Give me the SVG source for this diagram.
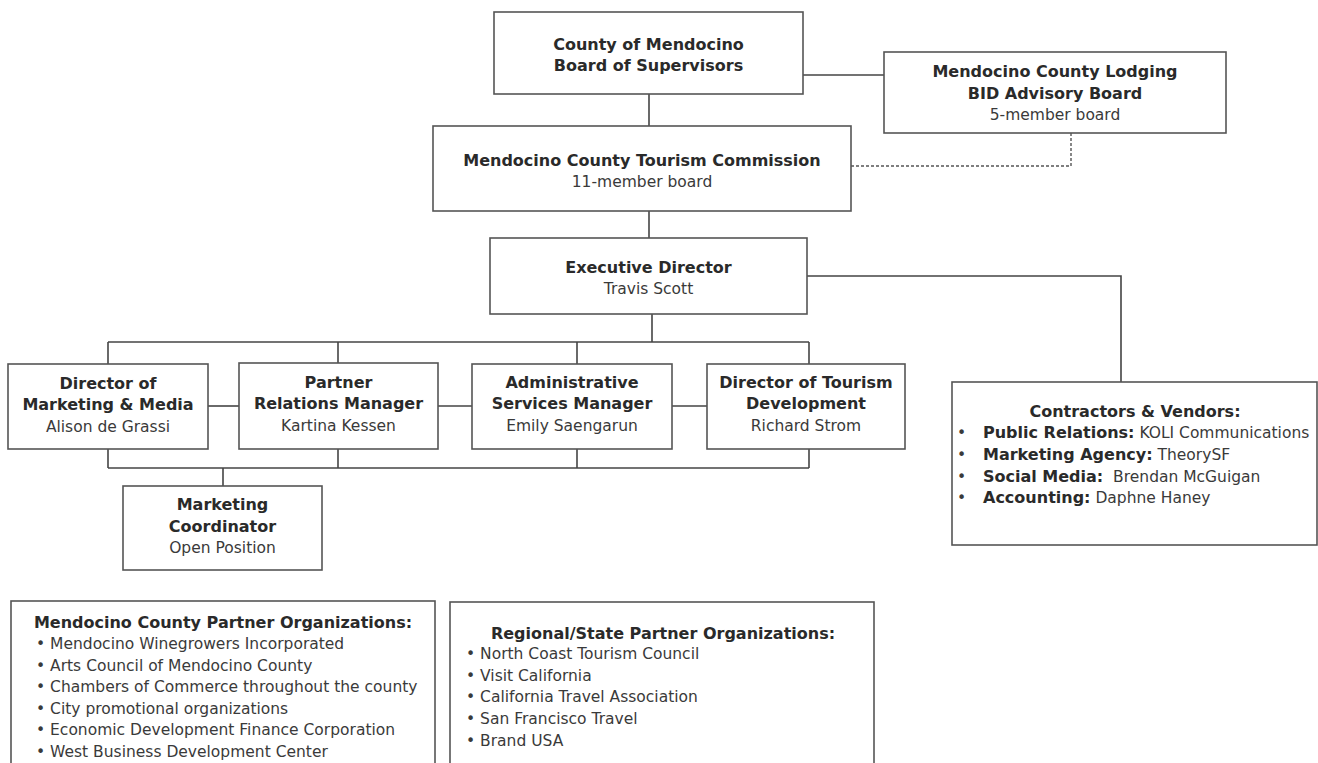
<svg xmlns="http://www.w3.org/2000/svg" width="1318" height="763" viewBox="0 0 1318 763">
<style>
.box{fill:#fff;stroke:#555;stroke-width:1.6}
.ln{fill:none;stroke:#444;stroke-width:1.6}
.dash{fill:none;stroke:#555;stroke-width:1.4;stroke-dasharray:3,2}
text{font-family:"DejaVu Sans",Verdana,sans-serif;fill:#2a2a2a}
.b{font-weight:bold;font-size:16px}
.r{font-size:15.5px;fill:#3a3a3a}
.c{text-anchor:middle}
</style>
<rect width="1318" height="763" fill="#fff"/>
<g id="connectors">
<line class="ln" x1="803" y1="75" x2="884" y2="75"/>
<line class="ln" x1="649" y1="94" x2="649" y2="126"/>
<polyline class="dash" points="851,166 1071,166 1071,133"/>
<line class="ln" x1="649" y1="211" x2="649" y2="238"/>
<polyline class="ln" points="807,276 1121,276 1121,382"/>
<line class="ln" x1="652" y1="314" x2="652" y2="342"/>
<line class="ln" x1="108" y1="342" x2="809" y2="342"/>
<line class="ln" x1="108" y1="342" x2="108" y2="364"/>
<line class="ln" x1="338" y1="342" x2="338" y2="364"/>
<line class="ln" x1="577" y1="342" x2="577" y2="364"/>
<line class="ln" x1="809" y1="342" x2="809" y2="364"/>
<line class="ln" x1="208" y1="406" x2="239" y2="406"/>
<line class="ln" x1="438" y1="406" x2="472" y2="406"/>
<line class="ln" x1="672" y1="406" x2="707" y2="406"/>
<line class="ln" x1="108" y1="449" x2="108" y2="468"/>
<line class="ln" x1="338" y1="449" x2="338" y2="468"/>
<line class="ln" x1="577" y1="449" x2="577" y2="468"/>
<line class="ln" x1="809" y1="449" x2="809" y2="468"/>
<line class="ln" x1="108" y1="468" x2="809" y2="468"/>
<line class="ln" x1="223" y1="468" x2="223" y2="486"/>
</g>
<g id="board">
<rect class="box" x="494" y="12" width="309" height="82"/>
<text class="b c" x="648.5" y="50">County of Mendocino</text>
<text class="b c" x="648.5" y="71">Board of Supervisors</text>
</g>
<g id="bid">
<rect class="box" x="884" y="52" width="342" height="81"/>
<text class="b c" x="1055" y="77">Mendocino County Lodging</text>
<text class="b c" x="1055" y="99">BID Advisory Board</text>
<text class="r c" x="1055" y="120">5-member board</text>
</g>
<g id="commission">
<rect class="box" x="433" y="126" width="418" height="85"/>
<text class="b c" x="642" y="166">Mendocino County Tourism Commission</text>
<text class="r c" x="642" y="187">11-member board</text>
</g>
<g id="exec">
<rect class="box" x="490" y="238" width="317" height="76"/>
<text class="b c" x="648.5" y="273">Executive Director</text>
<text class="r c" x="648.5" y="294">Travis Scott</text>
</g>
<g id="marketing">
<rect class="box" x="8" y="364" width="200" height="85"/>
<text class="b c" x="108" y="389">Director of</text>
<text class="b c" x="108" y="410">Marketing &amp; Media</text>
<text class="r c" x="108" y="432">Alison de Grassi</text>
</g>
<g id="partner">
<rect class="box" x="239" y="363" width="199" height="86"/>
<text class="b c" x="338.5" y="388">Partner</text>
<text class="b c" x="338.5" y="409">Relations Manager</text>
<text class="r c" x="338.5" y="431">Kartina Kessen</text>
</g>
<g id="admin">
<rect class="box" x="472" y="364" width="200" height="85"/>
<text class="b c" x="572" y="388">Administrative</text>
<text class="b c" x="572" y="409">Services Manager</text>
<text class="r c" x="572" y="431">Emily Saengarun</text>
</g>
<g id="tourism">
<rect class="box" x="707" y="364" width="198" height="85"/>
<text class="b c" x="806" y="388">Director of Tourism</text>
<text class="b c" x="806" y="409">Development</text>
<text class="r c" x="806" y="431">Richard Strom</text>
</g>
<g id="coordinator">
<rect class="box" x="123" y="486" width="199" height="84"/>
<text class="b c" x="222.5" y="510">Marketing</text>
<text class="b c" x="222.5" y="532">Coordinator</text>
<text class="r c" x="222.5" y="553">Open Position</text>
</g>
<g id="contractors">
<rect class="box" x="952" y="382" width="365" height="163"/>
<text class="b c" x="1135" y="417">Contractors &amp; Vendors:</text>
<text class="r" x="957" y="438">•</text><text x="983" y="438"><tspan class="b">Public Relations:</tspan><tspan class="r"> KOLI Communications</tspan></text>
<text class="r" x="957" y="460">•</text><text x="983" y="460"><tspan class="b">Marketing Agency:</tspan><tspan class="r"> TheorySF</tspan></text>
<text class="r" x="957" y="482">•</text><text x="983" y="482" xml:space="preserve"><tspan class="b">Social Media:</tspan><tspan class="r">  Brendan McGuigan</tspan></text>
<text class="r" x="957" y="503">•</text><text x="983" y="503"><tspan class="b">Accounting:</tspan><tspan class="r"> Daphne Haney</tspan></text>
</g>
<g id="county-partners">
<rect class="box" x="11" y="601" width="424" height="180"/>
<text class="b c" x="223" y="628">Mendocino County Partner Organizations:</text>
<text class="r" x="36" y="649">• Mendocino Winegrowers Incorporated</text>
<text class="r" x="36" y="671">• Arts Council of Mendocino County</text>
<text class="r" x="36" y="692">• Chambers of Commerce throughout the county</text>
<text class="r" x="36" y="714">• City promotional organizations</text>
<text class="r" x="36" y="735">• Economic Development Finance Corporation</text>
<text class="r" x="36" y="757">• West Business Development Center</text>
</g>
<g id="regional-partners">
<rect class="box" x="450" y="602" width="424" height="180"/>
<text class="b c" x="663" y="639">Regional/State Partner Organizations:</text>
<text class="r" x="466" y="659">• North Coast Tourism Council</text>
<text class="r" x="466" y="681">• Visit California</text>
<text class="r" x="466" y="702">• California Travel Association</text>
<text class="r" x="466" y="724">• San Francisco Travel</text>
<text class="r" x="466" y="746">• Brand USA</text>
</g>
</svg>
